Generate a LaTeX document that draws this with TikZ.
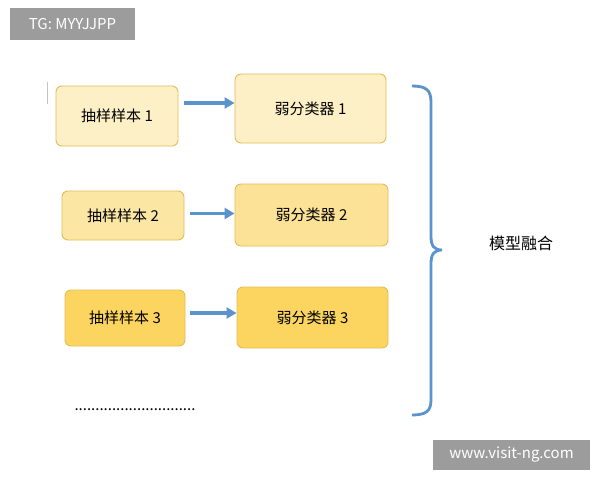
\documentclass[tikz,border=0pt]{standalone}
\usepackage{fontspec}
\setmainfont{Noto Sans CJK SC}
\usetikzlibrary{arrows.meta}
\definecolor{edgeY}{HTML}{E3BC55}
\definecolor{fillA}{HTML}{FDF0C6}
\definecolor{fillB}{HTML}{FCE296}
\definecolor{fillC}{HTML}{FCD560}
\definecolor{blueL}{HTML}{5B93CC}
\definecolor{markG}{HTML}{9C9C9C}
\tikzset{
  box/.style={draw=edgeY, line width=0.9pt, rounded corners=6pt, inner sep=0pt, font=\fontsize{15}{17}\selectfont},
  link/.style={draw=blueL, line width=3.2pt, -{Triangle[length=10pt,width=11pt]}},
  wmark/.style={fill=markG, text=white, inner sep=0pt, font=\fontsize{15}{17}\selectfont}
}
\begin{document}
\begin{tikzpicture}[x=1pt,y=-1pt]
\useasboundingbox (0,0) rectangle (600,480);
% samples
\node[box, fill=fillA, minimum width=122pt, minimum height=60pt] (s1) at (117,116) {抽样样本 1};
\node[box, fill=fillB!70!fillA, minimum width=122pt, minimum height=49pt] (s2) at (123,215.5) {抽样样本 2};
\node[box, fill=fillC, minimum width=120pt, minimum height=56pt] (s3) at (125,318) {抽样样本 3};
% weak classifiers
\node[box, fill=fillA, minimum width=151pt, minimum height=69pt] (c1) at (310.5,108.5) {弱分类器 1};
\node[box, fill=fillB, minimum width=153pt, minimum height=62pt] (c2) at (311.5,215) {弱分类器 2};
\node[box, fill=fillC, minimum width=151pt, minimum height=61pt] (c3) at (312.5,317.5) {弱分类器 3};
% arrows
\draw[link] (s1.east) ++(6,-13) coordinate (a1) -- (a1 -| c1.west) coordinate (b1);
\draw[link] (s2.east) ++(6,-2) coordinate (a2) -- (a2 -| c2.west);
\draw[link] (s3.east) ++(5,-5) coordinate (a3) -- (a3 -| c3.west);
% brace
\draw[blueL, line width=2.8pt]
  (412,86) .. controls (426,86) and (431,90) .. (431,102) -- (431,236)
  .. controls (431,246) and (434,250) .. (442,250)
  .. controls (434,250) and (431,254) .. (431,264) -- (431,400)
  .. controls (431,411) and (426,415) .. (412,415);
\node[font=\fontsize{16}{18}\selectfont] (fuse) at (521,243) {模型融合};
\node[font=\fontsize{15}{17}\selectfont] (dots) at (135,410) {.............................};
\draw[markG!60, line width=1pt] (47,82) -- (47,104);
% watermarks
\node[wmark, minimum width=125pt, minimum height=32pt] (tg) at (72.5,24) {TG: MYYJJPP};
\node[wmark, minimum width=157pt, minimum height=30pt] (www) at (511.5,455) {www.visit-ng.com};
\end{tikzpicture}
\end{document}
